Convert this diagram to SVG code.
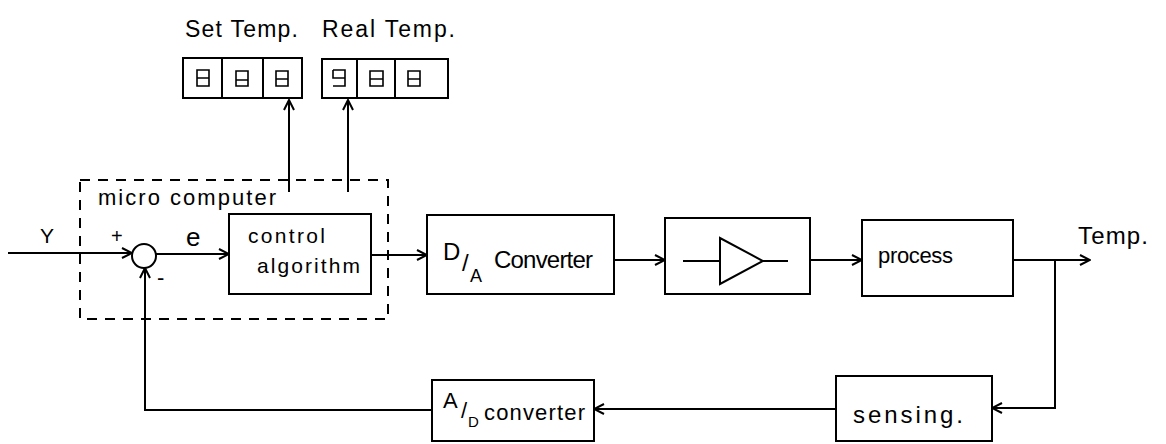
<svg xmlns="http://www.w3.org/2000/svg" width="1166" height="444" viewBox="0 0 1166 444">
<style>
.box{fill:#fff;stroke:#000;stroke-width:2}
.ln{fill:none;stroke:#000;stroke-width:2}
.t{font-family:"Liberation Sans",Arial,sans-serif;fill:#000}
.dg{fill:none;stroke:#000;stroke-width:1.6}
</style>
<defs>
<marker id="ah" viewBox="0 0 12 12" refX="11" refY="6" markerWidth="12" markerHeight="12" markerUnits="userSpaceOnUse" orient="auto">
<path d="M1,1 L11,6 L1,11" fill="none" stroke="#000" stroke-width="2"/>
</marker>
</defs>
<rect width="1166" height="444" fill="#fff"/>

<g id="labels-top">
<text class="t" x="185" y="37" font-size="23" textLength="113" lengthAdjust="spacing">Set Temp.</text>
<text class="t" x="322" y="37" font-size="23" textLength="133" lengthAdjust="spacing">Real Temp.</text>
</g>

<g id="set-display">
<rect class="box" x="183" y="58" width="119" height="40"/>
<line class="ln" x1="222" y1="58" x2="222" y2="98"/>
<line class="ln" x1="263" y1="58" x2="263" y2="98"/>
<path class="dg" d="M197,70 h12 v16 h-12 z M197,78 h12"/>
<path class="dg" d="M236,71 h12 v15 h-12 z M236,80 h12"/>
<path class="dg" d="M276,71 h12 v15 h-12 z M276,79 h12"/>
</g>

<g id="real-display">
<rect class="box" x="322" y="59" width="126" height="39"/>
<line class="ln" x1="357" y1="59" x2="357" y2="98"/>
<line class="ln" x1="395" y1="59" x2="395" y2="98"/>
<path class="dg" d="M333,70 h12 v16 h-12 M333,70 v8 h12"/>
<path class="dg" d="M370,71 h13 v15 h-13 z M370,79 h13"/>
<path class="dg" d="M408,71 h12 v15 h-12 z M408,79 h12"/>
</g>

<g id="micro-computer">
<rect x="80" y="180" width="308" height="139" fill="none" stroke="#000" stroke-width="2" stroke-dasharray="10,8"/>
<text class="t" x="98" y="205" font-size="22" textLength="178" lengthAdjust="spacing">micro computer</text>
</g>

<g id="sum">
<circle cx="144" cy="256" r="12" fill="#fff" stroke="#000" stroke-width="2"/>
<text class="t" x="111" y="243" font-size="20">+</text>
<text class="t" x="157" y="285" font-size="22">-</text>
</g>

<g id="control-algorithm">
<rect class="box" x="229" y="214" width="142" height="80"/>
<text class="t" x="248" y="243" font-size="21" textLength="77" lengthAdjust="spacing">control</text>
<text class="t" x="257" y="273" font-size="21" textLength="103" lengthAdjust="spacing">algorithm</text>
</g>

<g id="da-converter">
<rect class="box" x="427" y="215" width="187" height="79"/>
<text class="t" font-size="24"><tspan x="443" y="260">D</tspan><tspan x="462" y="271">/</tspan><tspan x="470" y="282" font-size="18">A</tspan><tspan x="494" y="268" textLength="99" lengthAdjust="spacing">Converter</tspan></text>
</g>

<g id="amplifier">
<rect class="box" x="665" y="218" width="145" height="76"/>
<path class="ln" d="M683,261 H720 M720,238 V284 L763,261 Z M763,261 H788"/>
</g>

<g id="process">
<rect class="box" x="862" y="220" width="151" height="76"/>
<text class="t" x="878" y="263" font-size="22" textLength="75" lengthAdjust="spacing">process</text>
</g>

<g id="sensing">
<rect class="box" x="836" y="376" width="156" height="65"/>
<text class="t" x="853" y="423" font-size="24" textLength="110" lengthAdjust="spacing">sensing.</text>
</g>

<g id="ad-converter">
<rect class="box" x="432" y="380" width="162" height="61"/>
<text class="t" font-size="22"><tspan x="443" y="408">A</tspan><tspan x="461" y="418">/</tspan><tspan x="468" y="427" font-size="15">D</tspan><tspan x="484" y="420" textLength="101" lengthAdjust="spacing">converter</tspan></text>
</g>

<g id="signal-labels">
<text class="t" x="40" y="243" font-size="21">Y</text>
<text class="t" x="186" y="246" font-size="26">e</text>
<text class="t" x="1078" y="244" font-size="24" textLength="70" lengthAdjust="spacing">Temp.</text>
</g>

<g id="connectors">
<line class="ln" x1="8" y1="253" x2="132" y2="253" marker-end="url(#ah)"/>
<line class="ln" x1="156" y1="254" x2="229" y2="254" marker-end="url(#ah)"/>
<line class="ln" x1="371" y1="255" x2="427" y2="255" marker-end="url(#ah)"/>
<line class="ln" x1="614" y1="260" x2="665" y2="260" marker-end="url(#ah)"/>
<line class="ln" x1="810" y1="260" x2="862" y2="260" marker-end="url(#ah)"/>
<line class="ln" x1="1013" y1="260" x2="1090" y2="260" marker-end="url(#ah)"/>
<polyline class="ln" points="1055,260 1055,408 992,408" marker-end="url(#ah)"/>
<line class="ln" x1="836" y1="409" x2="594" y2="409" marker-end="url(#ah)"/>
<polyline class="ln" points="432,410 145,410 145,268" marker-end="url(#ah)"/>
<line class="ln" x1="289" y1="192" x2="289" y2="100" stroke-width="2.5" marker-end="url(#ah)"/>
<line class="ln" x1="348" y1="192" x2="348" y2="100" marker-end="url(#ah)"/>
</g>
</svg>
